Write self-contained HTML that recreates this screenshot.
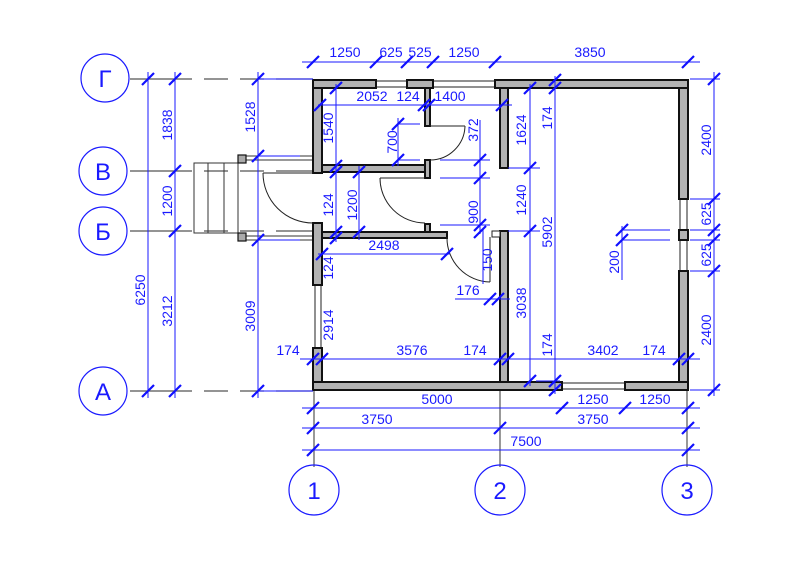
<!DOCTYPE html>
<html><head><meta charset="utf-8"><style>
html,body{margin:0;padding:0;background:#fff}
svg{display:block}
text{font-family:"Liberation Sans",Arial,sans-serif;font-size:14px;fill:#1a1aff}
</style></head><body>
<svg width="800" height="565" viewBox="0 0 800 565" xmlns="http://www.w3.org/2000/svg">
<defs><path id="t" d="M-6,6 L6,-6" stroke="#1010ff" stroke-width="2.2"/></defs>
<rect width="800" height="565" fill="#fff"/>
<g stroke="#555" stroke-width="1.2" fill="none">
<path d="M130,79H313M130,171H313M130,231H313M130,391H313" stroke-dasharray="62,12,24,12,24,12,200"/>
<path d="M314,390V467M500,390V467M687,390V467"/>
</g>
<g stroke="#1a1aff" stroke-width="1.2" fill="none">
<circle cx="105" cy="78" r="24"/><circle cx="103" cy="171" r="24"/><circle cx="103" cy="231" r="24"/><circle cx="103" cy="391" r="24"/>
<circle cx="314" cy="490" r="25"/><circle cx="500" cy="490" r="25"/><circle cx="687" cy="490" r="25"/>
</g>
<g text-anchor="middle">
<text x="105" y="87" style="font-size:24px">Г</text><text x="103" y="180" style="font-size:24px">В</text><text x="103" y="240" style="font-size:24px">Б</text><text x="103" y="400" style="font-size:24px">А</text>
<text x="314" y="499" style="font-size:24px">1</text><text x="500" y="499" style="font-size:24px">2</text><text x="687" y="499" style="font-size:24px">3</text>
</g>
<g stroke="#333" stroke-width="1" fill="none">
<rect x="194" y="163" width="44" height="70"/>
<path d="M208,163V233M224,163V233"/>
<path d="M246,156H313M246,160H313M246,236H313M246,240H313"/>
</g>
<g fill="#aaa" stroke="#111" stroke-width="1.2">
<rect x="238" y="155" width="8" height="8"/><rect x="238" y="233" width="8" height="8"/>
</g>
<g stroke="#222" stroke-width="1" fill="#fff">
<rect x="376" y="81" width="31" height="6"/><rect x="433" y="81" width="62" height="6"/>
<rect x="680" y="199" width="7" height="31"/><rect x="680" y="240" width="7" height="31"/>
<rect x="562" y="383" width="63" height="6"/><rect x="315" y="285" width="6" height="63"/>
</g>
<g fill="#b2b2b2" stroke="#111" stroke-width="2">
<rect x="313" y="80" width="63" height="8"/><rect x="407" y="80" width="26" height="8"/><rect x="495" y="80" width="193" height="8"/>
<rect x="313" y="88" width="9" height="85"/><rect x="313" y="223" width="9" height="62"/><rect x="313" y="348" width="9" height="34"/>
<rect x="313" y="382" width="249" height="8"/><rect x="625" y="382" width="63" height="8"/>
<rect x="679" y="88" width="9" height="111"/><rect x="679" y="230" width="9" height="10"/><rect x="679" y="271" width="9" height="111"/>
<rect x="322" y="165" width="103" height="7"/><rect x="425" y="88" width="5" height="38"/><rect x="425" y="160" width="5" height="18"/><rect x="425" y="224" width="5" height="8"/>
<rect x="322" y="232" width="125" height="6"/><rect x="500" y="88" width="8" height="80"/><rect x="500" y="231" width="8" height="151"/>
</g>
<rect x="492" y="231" width="8" height="6" fill="#fff" stroke="#222"/>
<g stroke="#222" stroke-width="1" fill="none">
<path d="M263,173H313M263,173A50,50 0 0 0 313,223"/>
<path d="M380,178H425M380,178A45,45 0 0 0 425,223"/>
<path d="M430,126H465M465,126A35,35 0 0 1 430,160"/>
<path d="M490,237V282M447,237A44,44 0 0 0 490,282"/>
</g>
<g stroke="#1a1aff" stroke-width="1" fill="none">
<path d="M302,62H700"/>
<path d="M148,72V398M175,72V398M258,72V398M258,79H313M258,156H300M258,240H300M258,391H313"/>
<path d="M318,105H512"/>
<path d="M336,84V242M359,166V240M318,254H450M300,359H700"/>
<path d="M398,118V166M398,124H420M398,160H420"/>
<path d="M480,120V234M440,160H490M440,178H490M440,225H490"/>
<path d="M483,230V284"/>
<path d="M455,299H510"/>
<path d="M530,84V386M508,168H540M508,231H540"/>
<path d="M555,76V394M536,381H560"/>
<path d="M622,226V280M622,230H670M622,240H670"/>
<path d="M714,72V396M690,79H720M690,199H720M690,230H720M690,240H720M690,271H720M690,390H720"/>
<path d="M302,408H700M302,428H700M302,450H700"/>
</g>
<g>
<use href="#t" x="313" y="62"/><use href="#t" x="376" y="62"/><use href="#t" x="407" y="62"/><use href="#t" x="433" y="62"/><use href="#t" x="495" y="62"/><use href="#t" x="688" y="62"/>
<use href="#t" x="148" y="79"/><use href="#t" x="148" y="391"/>
<use href="#t" x="175" y="79"/><use href="#t" x="175" y="171"/><use href="#t" x="175" y="231"/><use href="#t" x="175" y="391"/>
<use href="#t" x="258" y="79"/><use href="#t" x="258" y="156"/><use href="#t" x="258" y="240"/><use href="#t" x="258" y="391"/>
<use href="#t" x="320" y="105"/><use href="#t" x="424" y="105"/><use href="#t" x="429" y="105"/><use href="#t" x="502" y="105"/>
<use href="#t" x="336" y="88"/><use href="#t" x="336" y="166"/><use href="#t" x="336" y="172"/><use href="#t" x="336" y="232"/><use href="#t" x="336" y="238"/>
<use href="#t" x="359" y="172"/><use href="#t" x="359" y="232"/>
<use href="#t" x="322" y="254"/><use href="#t" x="447" y="254"/>
<use href="#t" x="398" y="124"/><use href="#t" x="398" y="160"/>
<use href="#t" x="480" y="160"/><use href="#t" x="480" y="178"/><use href="#t" x="480" y="225"/><use href="#t" x="480" y="232"/>
<use href="#t" x="490" y="299"/><use href="#t" x="498" y="299"/>
<use href="#t" x="530" y="88"/><use href="#t" x="530" y="168"/><use href="#t" x="530" y="231"/><use href="#t" x="530" y="381"/>
<use href="#t" x="555" y="80"/><use href="#t" x="555" y="88"/><use href="#t" x="555" y="381"/><use href="#t" x="555" y="390"/>
<use href="#t" x="313" y="359"/><use href="#t" x="322" y="359"/><use href="#t" x="500" y="359"/><use href="#t" x="508" y="359"/><use href="#t" x="679" y="359"/><use href="#t" x="688" y="359"/>
<use href="#t" x="622" y="230"/><use href="#t" x="622" y="240"/>
<use href="#t" x="714" y="79"/><use href="#t" x="714" y="199"/><use href="#t" x="714" y="230"/><use href="#t" x="714" y="240"/><use href="#t" x="714" y="271"/><use href="#t" x="714" y="390"/>
<use href="#t" x="313" y="408"/><use href="#t" x="562" y="408"/><use href="#t" x="625" y="408"/><use href="#t" x="688" y="408"/>
<use href="#t" x="313" y="428"/><use href="#t" x="500" y="428"/><use href="#t" x="688" y="428"/>
<use href="#t" x="313" y="450"/><use href="#t" x="688" y="450"/>
</g>
<g text-anchor="middle">
<text x="345" y="57">1250</text><text x="391" y="57">625</text><text x="420" y="57">525</text><text x="464" y="57">1250</text><text x="590" y="57">3850</text>
<text x="372" y="101">2052</text><text x="408" y="101">124</text><text x="450" y="101">1400</text>
<text x="412" y="355">3576</text><text x="288" y="355">174</text><text x="475" y="355">174</text><text x="603" y="355">3402</text><text x="654" y="355">174</text>
<text x="384" y="250">2498</text><text x="468" y="295">176</text>
<text x="437" y="404">5000</text><text x="593" y="404">1250</text><text x="655" y="404">1250</text>
<text x="377" y="424">3750</text><text x="593" y="424">3750</text><text x="526" y="446">7500</text>
</g>
<g text-anchor="middle">
<text transform="translate(145,290) rotate(-90)">6250</text>
<text transform="translate(172,125) rotate(-90)">1838</text>
<text transform="translate(172,201) rotate(-90)">1200</text>
<text transform="translate(172,311) rotate(-90)">3212</text>
<text transform="translate(255,117) rotate(-90)">1528</text>
<text transform="translate(255,316) rotate(-90)">3009</text>
<text transform="translate(333,128) rotate(-90)">1540</text>
<text transform="translate(333,205) rotate(-90)">124</text>
<text transform="translate(357,205) rotate(-90)">1200</text>
<text transform="translate(397,142) rotate(-90)">700</text>
<text transform="translate(478,130) rotate(-90)">372</text>
<text transform="translate(478,212) rotate(-90)">900</text>
<text transform="translate(492,260) rotate(-90)">150</text>
<text transform="translate(333,268) rotate(-90)">124</text>
<text transform="translate(333,325) rotate(-90)">2914</text>
<text transform="translate(526,130) rotate(-90)">1624</text>
<text transform="translate(526,200) rotate(-90)">1240</text>
<text transform="translate(526,303) rotate(-90)">3038</text>
<text transform="translate(552,118) rotate(-90)">174</text>
<text transform="translate(552,232) rotate(-90)">5902</text>
<text transform="translate(552,345) rotate(-90)">174</text>
<text transform="translate(619,262) rotate(-90)">200</text>
<text transform="translate(711,140) rotate(-90)">2400</text>
<text transform="translate(711,214) rotate(-90)">625</text>
<text transform="translate(711,255) rotate(-90)">625</text>
<text transform="translate(711,330) rotate(-90)">2400</text>
</g>
</svg>
</body></html>
